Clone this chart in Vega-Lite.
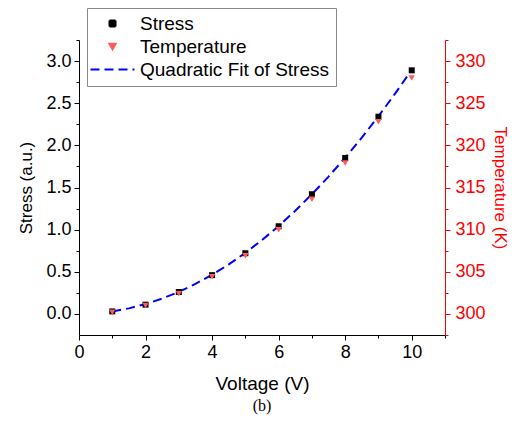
{
  "$schema": "https://vega.github.io/schema/vega-lite/v6.json",
  "autosize": {"type": "none"},
  "padding": {"left": 79, "top": 40, "right": 75, "bottom": 102},
  "width": 366,
  "height": 295,
  "background": "white",
  "config": {
    "font": "Liberation Sans",
    "view": {"stroke": null},
    "axis": {"grid": false, "labelFontSize": 18, "titleFontSize": 17, "titleFontWeight": "normal", "labelColor": "black", "titleColor": "black", "domainColor": "black", "tickColor": "black", "domainWidth": 1, "tickWidth": 1}
  },
  "title": {"text": "(b)", "orient": "bottom", "font": "Liberation Serif", "fontSize": 16, "fontWeight": "normal", "anchor": "middle", "offset": 5, "color": "black"},
  "datasets": {
    "pts": [
      {"V": 1, "Stress": 0.03, "Temperature": 300.2},
      {"V": 2, "Stress": 0.11, "Temperature": 301.0},
      {"V": 3, "Stress": 0.26, "Temperature": 302.4},
      {"V": 4, "Stress": 0.46, "Temperature": 304.4},
      {"V": 5, "Stress": 0.72, "Temperature": 306.9},
      {"V": 6, "Stress": 1.04, "Temperature": 310.0},
      {"V": 7, "Stress": 1.42, "Temperature": 313.6},
      {"V": 8, "Stress": 1.85, "Temperature": 317.9},
      {"V": 9, "Stress": 2.34, "Temperature": 322.8},
      {"V": 10, "Stress": 2.89, "Temperature": 328.0}
    ],
    "fit": [
      {"V": 1, "Fit": 0.030}, {"V": 1.5, "Fit": 0.066}, {"V": 2, "Fit": 0.117}, {"V": 2.5, "Fit": 0.182},
      {"V": 3, "Fit": 0.262}, {"V": 3.5, "Fit": 0.356}, {"V": 4, "Fit": 0.465}, {"V": 4.5, "Fit": 0.588},
      {"V": 5, "Fit": 0.725}, {"V": 5.5, "Fit": 0.877}, {"V": 6, "Fit": 1.043}, {"V": 6.5, "Fit": 1.224},
      {"V": 7, "Fit": 1.420}, {"V": 7.5, "Fit": 1.629}, {"V": 8, "Fit": 1.854}, {"V": 8.5, "Fit": 2.092},
      {"V": 9, "Fit": 2.346}, {"V": 9.5, "Fit": 2.613}, {"V": 10, "Fit": 2.896}
    ]
  },
  "encoding": {
    "x": {
      "type": "quantitative",
      "scale": {"domain": [0, 11], "nice": false, "zero": false},
      "axis": {
        "title": "Voltage (V)",
        "titleFontSize": 19,
        "values": [0, 1, 2, 3, 4, 5, 6, 7, 8, 9, 10, 11],
        "labelExpr": "datum.value % 2 === 0 ? datum.label : ''",
        "tickSize": {"condition": {"test": "datum.value % 2 === 0", "value": 5}, "value": 3},
        "labelPadding": 3,
        "titlePadding": 13,
        "labelFlush": false
      }
    }
  },
  "layer": [
    {
      "encoding": {
        "y": {
          "type": "quantitative",
          "scale": {"domain": [-0.25, 3.25], "nice": false, "zero": false},
          "axis": {
            "orient": "left",
            "title": "Stress (a.u.)",
            "values": [0, 0.25, 0.5, 0.75, 1, 1.25, 1.5, 1.75, 2, 2.25, 2.5, 2.75, 3, 3.25],
            "labelExpr": "datum.value % 0.5 === 0 ? format(datum.value, '.1f') : ''",
            "tickSize": {"condition": {"test": "datum.value % 0.5 === 0", "value": 5}, "value": 3},
            "labelPadding": 3,
            "titlePadding": 10,
            "labelFlush": false
          }
        }
      },
      "layer": [
        {
          "data": {"name": "fit"},
          "mark": {"type": "line", "strokeDash": [9, 5], "strokeWidth": 2},
          "encoding": {
            "x": {"field": "V", "type": "quantitative"},
            "y": {"field": "Fit", "type": "quantitative"},
            "color": {
              "datum": "Quadratic Fit of Stress",
              "type": "nominal",
              "scale": {"domain": ["Stress", "Temperature", "Quadratic Fit of Stress"], "range": ["black", "#ff5a5a", "#0000ff"]},
              "legend": {
                "title": null,
                "orient": "none",
                "legendX": 8,
                "legendY": -32,
                "strokeColor": "#888888",
                "fillColor": "white",
                "padding": 6,
                "labelFontSize": 19,
                "labelFont": "Liberation Sans",
                "labelColor": "black",
                "labelLimit": 400,
                "symbolSize": 64,
                "symbolOffset": 10,
                "labelOffset": 18,
                "rowPadding": 3,
                "encode": {
                  "symbols": {
                    "update": {
                      "shape": {"signal": "datum.value === 'Stress' ? 'square' : datum.value === 'Temperature' ? 'triangle-down' : 'M-5.5,0H5.5'"},
                      "size": {"signal": "datum.value === 'Stress' ? 36 : datum.value === 'Temperature' ? 40 : 64"},
                      "fill": {"signal": "datum.value === 'Stress' ? 'black' : datum.value === 'Temperature' ? '#ff5a5a' : 'transparent'"},
                      "stroke": {"signal": "datum.value === 'Quadratic Fit of Stress' ? '#0000ff' : 'transparent'"},
                      "strokeWidth": {"value": 2},
                      "strokeDash": {"signal": "datum.value === 'Quadratic Fit of Stress' ? [9, 5] : [1, 0]"},
                      "opacity": {"value": 1}
                    }
                  }
                }
              }
            }
          }
        },
        {
          "data": {"name": "pts"},
          "mark": {"type": "point", "shape": "square", "filled": true, "size": 36, "opacity": 1},
          "encoding": {
            "x": {"field": "V", "type": "quantitative"},
            "y": {"field": "Stress", "type": "quantitative"},
            "color": {"datum": "Stress", "type": "nominal"}
          }
        }
      ]
    },
    {
      "data": {"name": "pts"},
      "mark": {"type": "point", "shape": "triangle-down", "filled": true, "size": 40, "opacity": 1},
      "encoding": {
        "x": {"field": "V", "type": "quantitative"},
        "y": {
          "field": "Temperature",
          "type": "quantitative",
          "scale": {"domain": [297.5, 332.5], "nice": false, "zero": false},
          "axis": {
            "orient": "right",
            "title": "Temperature (K)",
            "values": [297.5, 300, 302.5, 305, 307.5, 310, 312.5, 315, 317.5, 320, 322.5, 325, 327.5, 330, 332.5],
            "labelExpr": "datum.value % 5 === 0 ? datum.label : ''",
            "tickSize": {"condition": {"test": "datum.value % 5 === 0", "value": 5}, "value": 3},
            "domainColor": "#ff0000",
            "tickColor": "#ff0000",
            "labelColor": "#ff0000",
            "titleColor": "#ff0000",
            "labelPadding": 5,
            "titlePadding": 5,
            "labelFlush": false
          }
        },
        "color": {"datum": "Temperature", "type": "nominal"}
      }
    }
  ],
  "resolve": {"scale": {"y": "independent"}}
}
